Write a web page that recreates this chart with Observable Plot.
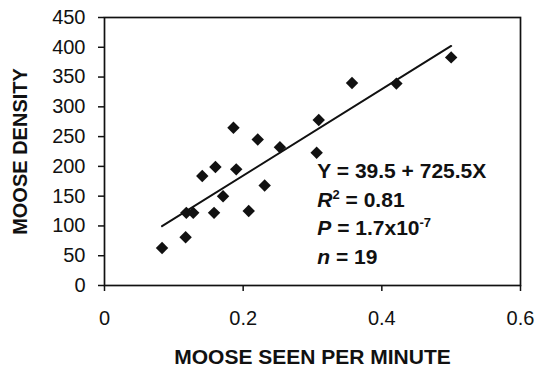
<!DOCTYPE html>
<html><head><meta charset="utf-8">
<script src="https://cdn.jsdelivr.net/npm/d3@7"></script>
<script src="https://cdn.jsdelivr.net/npm/@observablehq/plot@0.6"></script>
<style>body{margin:0;background:#fff} svg{display:block}</style>
</head><body><div id="chart"></div>
<script>
// Moose seen per minute (x) and moose density (y)
const seen    = [0.083, 0.117, 0.118, 0.128, 0.141, 0.160, 0.158, 0.171, 0.186, 0.190, 0.208, 0.221, 0.231, 0.253, 0.306, 0.309, 0.357, 0.421, 0.500];
const density = [63,    81,    122,   122,   184,   199,   122,   150,   265,   195,   125,   245,   168,   232,   223,   278,   340,   339,   383];
const xTicks = [0, 0.2, 0.4, 0.6];
const yTicks = [0, 50, 100, 150, 200, 250, 300, 350, 400, 450];
const intercept = 39.5, slope = 725.5;
const fitRange = [0.083, 0.5];
const statX = 0.307;
const statY = [180, 132, 84, 36];
const statLines = [
  [["Y = 39.5 + 725.5X", ""]],
  [["R", "i"], ["2", "sup"], [" = 0.81", ""]],
  [["P", "i"], [" = 1.7x10", ""], ["-7", "sup"]],
  [["n", "i"], [" = 19", ""]]
];
const xTitle = "MOOSE SEEN PER MINUTE";
const yTitle = "MOOSE DENSITY";

const points = seen.map((x, i) => ({x, y: density[i]}));
const fit = fitRange.map(x => ({x, y: intercept + slope * x}));
const stats = statY.map((y, i) => ({x: statX, y, t: statLines[i].map(s => s[0]).join("")}));

const plot = Plot.plot({
  width: 537, height: 369,
  marginLeft: 104, marginRight: 17, marginTop: 17, marginBottom: 84,
  style: {fontFamily: "'Liberation Sans', Arial, sans-serif", fontSize: "20px", background: "#fff", color: "#111", overflow: "visible"},
  x: {domain: [0, 0.6], label: null},
  y: {domain: [0, 450], label: null},
  marks: [
    Plot.frame({stroke: "#111", strokeWidth: 1.7}),
    Plot.axisX({ticks: xTicks, tickSize: 6, tickPadding: 19, fontSize: 20, label: null, tickFormat: d => String(d), stroke: "#111", strokeWidth: 1.5}),
    Plot.axisY({ticks: yTicks, tickSize: 6, tickPadding: 13, fontSize: 20, label: null, tickFormat: d => String(d), stroke: "#111", strokeWidth: 1.5}),
    Plot.line(fit, {x: "x", y: "y", stroke: "#111", strokeWidth: 2}),
    Plot.dot(points, {x: "x", y: "y", symbol: "diamond2", r: 5.6, fill: "#111", stroke: "none"}),
    Plot.text(stats, {x: "x", y: "y", text: "t", textAnchor: "start", lineAnchor: "bottom", fontSize: 21, fontWeight: "bold", fill: "#111"}),
    Plot.text([yTitle], {frameAnchor: "left", dx: -84, rotate: -90, textAnchor: "middle", lineAnchor: "middle", fontSize: 20, fontWeight: "bold", fill: "#111"}),
    Plot.text([xTitle], {frameAnchor: "bottom", dy: 72, textAnchor: "middle", lineAnchor: "middle", fontSize: 21, fontWeight: "bold", fill: "#111"})
  ]
});

const statTexts = stats.map(s => s.t);
d3.select(plot).selectAll("text").each(function() {
  const k = statTexts.indexOf(this.textContent);
  if (k < 0) return;
  const t = d3.select(this);
  t.text(null);
  let raised = false;
  statLines[k].forEach(([s, kind]) => {
    const ts = t.append("tspan").text(s);
    if (kind === "i") ts.attr("font-style", "italic");
    if (kind === "sup") { ts.attr("dy", -8).attr("font-size", 13); raised = true; }
    else if (raised) { ts.attr("dy", 8); raised = false; }
  });
});

document.getElementById("chart").appendChild(plot);
</script>
</body></html>
